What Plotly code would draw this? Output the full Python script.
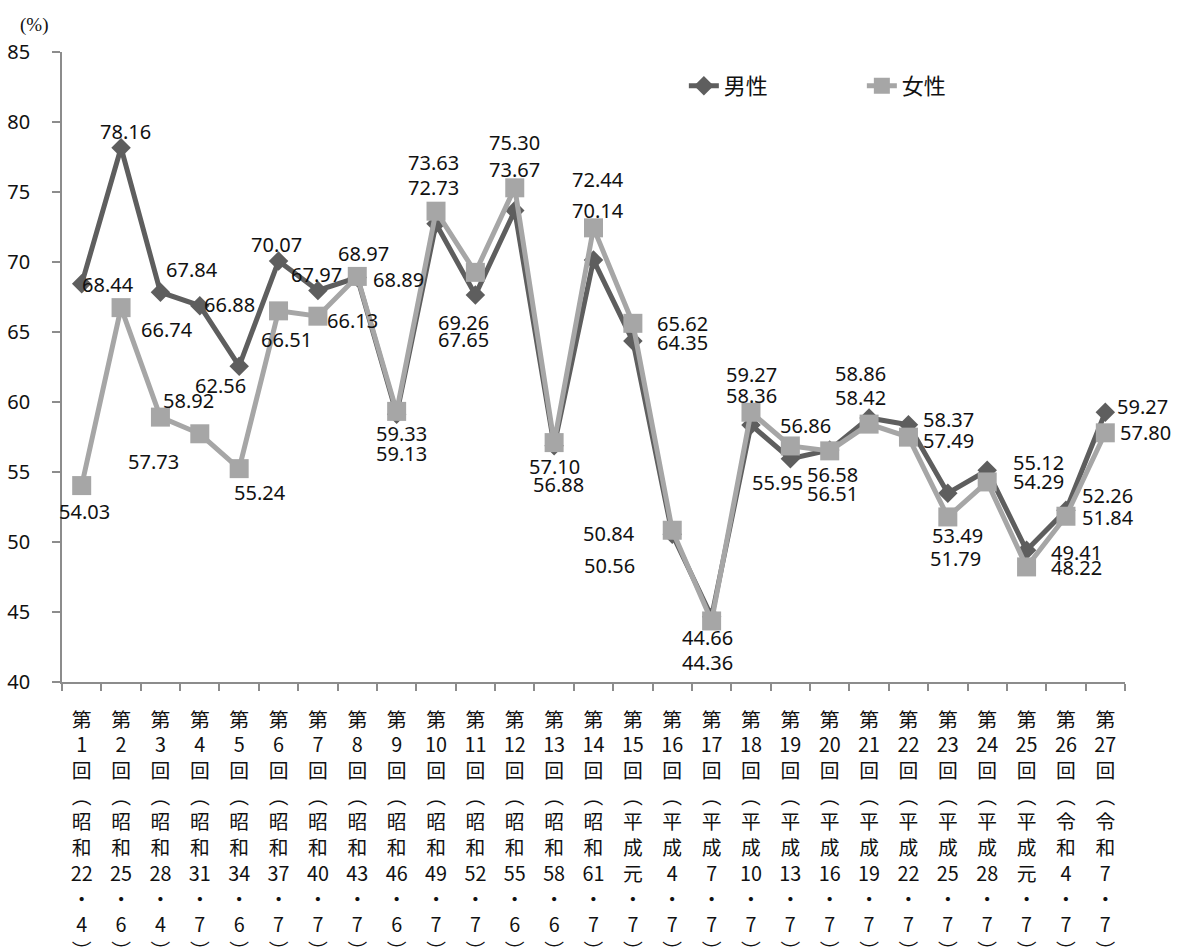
import plotly.graph_objects as go

# 参議院議員通常選挙 男女別投票率
election_no = list(range(1, 28))
era_name = ["昭和"] * 14 + ["平成"] * 11 + ["令和"] * 2
era_year = ["22", "25", "28", "31", "34", "37", "40", "43", "46", "49", "52", "55", "58", "61",
            "元", "4", "7", "10", "13", "16", "19", "22", "25", "28",
            "元", "4", "7"]
month = ["4", "6", "4", "7", "6", "7", "7", "7", "6", "7", "7", "6", "6", "7",
         "7", "7", "7", "7", "7", "7", "7", "7", "7", "7", "7", "7", "7"]

male = [68.44, 78.16, 67.84, 66.88, 62.56, 70.07, 67.97, 68.89, 59.13, 72.73,
        67.65, 73.67, 56.88, 70.14, 64.35, 50.56, 44.66, 58.36, 55.95, 56.58,
        58.86, 58.37, 53.49, 55.12, 49.41, 52.26, 59.27]
female = [54.03, 66.74, 58.92, 57.73, 55.24, 66.51, 66.13, 68.97, 59.33, 73.63,
          69.26, 75.30, 57.10, 72.44, 65.62, 50.84, 44.36, 59.27, 56.86, 56.51,
          58.42, 57.49, 51.79, 54.29, 48.22, 51.84, 57.80]

# vertical tick labels, one character/number per line
def vertical_label(n, era, yr, mo):
    parts = ["第", str(n), "回", "︵", era[0], era[1], yr, "・", mo, "︶"]
    return "<br>".join(parts)

cats = [vertical_label(n, e, y, m) for n, e, y, m in zip(election_no, era_name, era_year, month)]

# data-label pixel offsets (dx right, dy down) from each marker
male_off = [(26, 1), (4, -16), (32, -23), (30, -1), (-19, 19), (-2, -17), (-1, -16), (41, 2),
            (5, 39), (-3, -36), (-12, 45), (0, -41), (4, 39), (4, -50), (50, 1), (-63, 31),
            (-4, 21), (1, -29), (-13, 24), (3, 25), (-9, -44), (40, -5), (10, 42), (51, -8),
            (50, 2), (42, -15), (37, -6)]
female_off = [(3, 26), (46, 22), (28, -17), (-46, 28), (21, 24), (8, 29), (35, 4), (6, -23),
              (5, 22), (-3, -49), (-12, 50), (0, -45), (0, 24), (4, -48), (50, 0), (-63, 3),
              (-4, 42), (1, -38), (15, -20), (3, 43), (-9, -27), (40, 3), (8, 42), (51, 0),
              (50, 1), (42, 1), (40, 0)]

MALE_COLOR = "#5e5e5e"
FEMALE_COLOR = "#a6a6a6"
NUM_FONT = "Noto Sans"
JP_FONT = "Noto Sans CJK JP"

fig = go.Figure()
fig.add_trace(go.Scatter(
    x=cats, y=male, name="男性", mode="lines+markers",
    line=dict(color=MALE_COLOR, width=5),
    marker=dict(symbol="diamond", size=15, color=MALE_COLOR),
))
fig.add_trace(go.Scatter(
    x=cats, y=female, name="女性", mode="lines+markers",
    line=dict(color=FEMALE_COLOR, width=5),
    marker=dict(symbol="square", size=19, color=FEMALE_COLOR),
))

annotations = []
for series, offs in ((male, male_off), (female, female_off)):
    for c, v, (dx, dy) in zip(cats, series, offs):
        annotations.append(dict(
            x=c, y=v, xref="x", yref="y", text=f"{v:.2f}", showarrow=False,
            xshift=dx, yshift=-dy, xanchor="center", yanchor="middle",
            font=dict(family=NUM_FONT, size=20, color="#111111"),
        ))
annotations.append(dict(
    x=0, y=1, xref="paper", yref="paper", text="(%)", showarrow=False,
    xshift=-28, yshift=27, xanchor="center", yanchor="middle",
    font=dict(family="Liberation Serif", size=19, color="#111111"),
))

fig.update_layout(
    width=1182, height=947,
    margin=dict(l=62, r=57, t=52, b=265, autoexpand=False),
    paper_bgcolor="white", plot_bgcolor="white",
    showlegend=True,
    legend=dict(
        orientation="h", x=0.585, y=0.946, xanchor="left", yanchor="middle",
        font=dict(family=JP_FONT, size=22, color="#111111"),
        bgcolor="rgba(0,0,0,0)", entrywidth=133, entrywidthmode="pixels",
    ),
    annotations=annotations,
)
fig.update_xaxes(
    type="category", range=[-0.5, len(cats) - 0.5], autorange=False,
    showgrid=False, showline=True, linecolor="#8c8c8c", linewidth=1.5,
    ticks="outside", tickson="boundaries", ticklen=7, tickcolor="#8c8c8c", tickwidth=1.5,
    tickfont=dict(family=JP_FONT, size=19.8, color="#111111"),
    tickangle=0, ticklabelstandoff=19,
)
fig.update_yaxes(
    range=[40, 85], autorange=False, tickvals=list(range(40, 86, 5)), showgrid=False, zeroline=False,
    showline=True, linecolor="#8c8c8c", linewidth=1.5,
    ticks="outside", ticklen=8, tickcolor="#8c8c8c", tickwidth=1.5,
    tickfont=dict(family=NUM_FONT, size=20, color="#111111"),
    ticklabelstandoff=18,
)

fig.write_html("out.html")
